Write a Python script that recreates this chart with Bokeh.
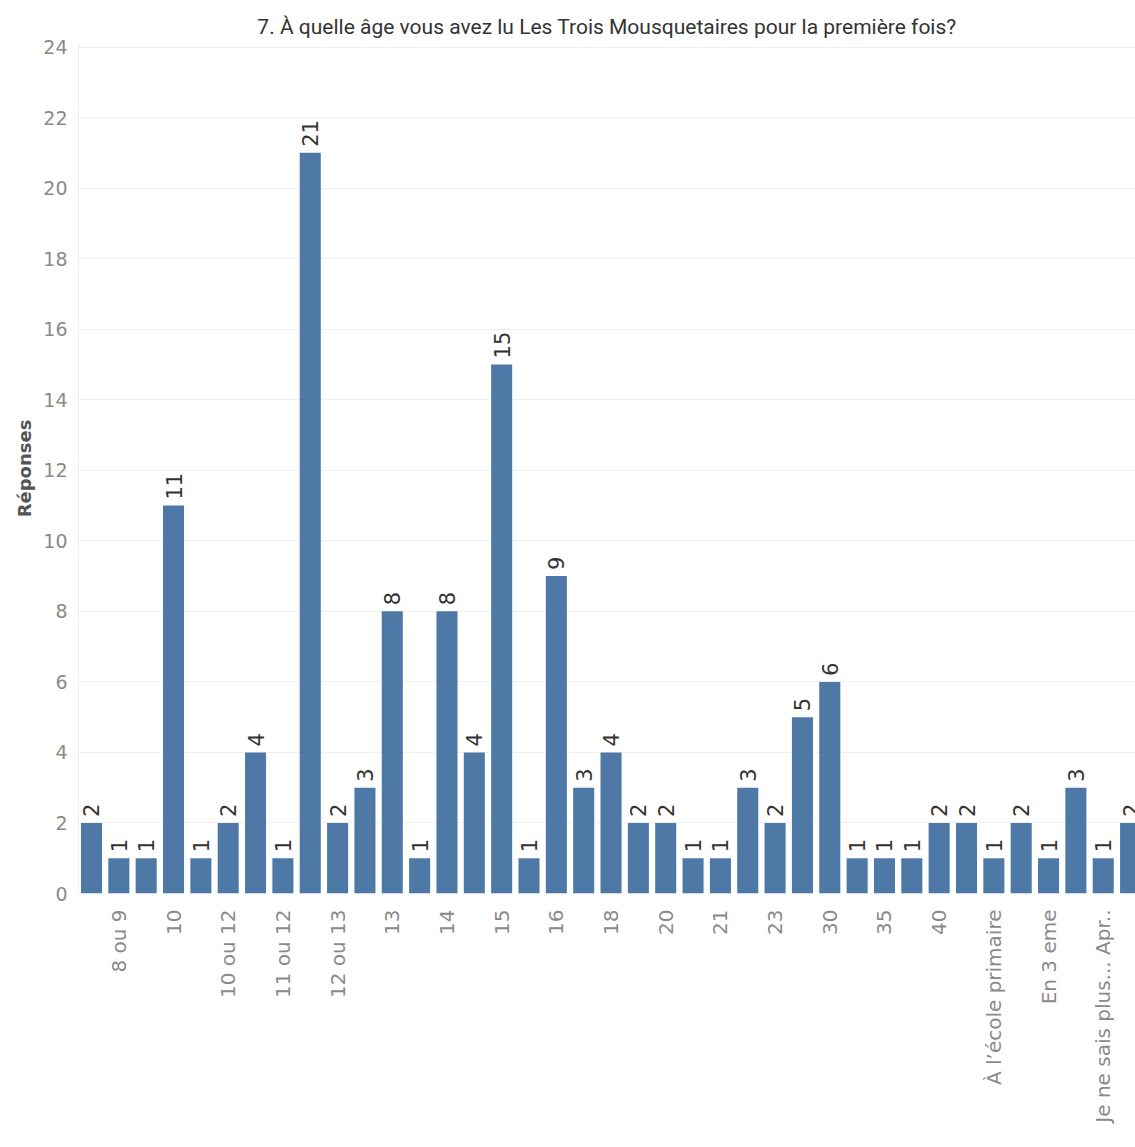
import math
from bokeh.plotting import figure
from bokeh.models import ColumnDataSource, FixedTicker, Range1d
from bokeh.core.properties import value
from bokeh.embed import file_html
from bokeh.resources import INLINE

# ---- data ----
x_labels = ["", "8 ou 9", "", "10", "", "10 ou 12", "", "11 ou 12", "", "12 ou 13",
            "", "13", "", "14", "", "15", "", "16", "", "18",
            "", "20", "", "21", "", "23", "", "30", "", "35",
            "", "40", "", "À l\u2019école primaire", "", "En 3 eme", "", "Je ne sais plus... Apr..", ""]
responses = [2, 1, 1, 11, 1, 2, 4, 1, 21, 2,
             3, 8, 1, 8, 4, 15, 1, 9, 3, 4,
             2, 2, 1, 1, 3, 2, 5, 6, 1, 1,
             1, 2, 2, 1, 2, 1, 3, 1, 2]
y_ticks = list(range(0, 25, 2))
title_text = "7. À quelle âge vous avez lu Les Trois Mousquetaires pour la première fois?"
y_title = "Réponses"

idx = list(range(len(responses)))
src = ColumnDataSource(dict(x=idx, top=responses, lbl=[str(v) for v in responses]))

p = figure(width=1135, height=1147, output_backend="svg", toolbar_location=None,
           x_range=Range1d(-0.475, 38.18), y_range=Range1d(0, 24.1),
           min_border_left=78, min_border_right=0, min_border_top=43, min_border_bottom=254)

p.title.text = title_text
p.title.align = "center"
p.title.text_font = "Roboto"
p.title.text_font_size = "21px"
p.title.text_font_style = "normal"
p.title.text_color = "#333333"
p.title.offset = 120

p.vbar(x="x", top="top", width=0.77, bottom=0, source=src, color="#4e79a7", line_color=None)
p.text(x="x", y="top", text="lbl", source=src, angle=math.pi / 2, text_align="left",
       text_baseline="middle", y_offset=-6, text_font_size=value("21px"), text_color="#333333",
       text_font=value("DejaVu Sans"))

p.xaxis.ticker = FixedTicker(ticks=idx)
p.xaxis.major_label_overrides = {i: l for i, l in zip(idx, x_labels)}
p.xaxis.major_label_orientation = math.pi / 2
p.xaxis.major_label_text_font = "DejaVu Sans"
p.xaxis.major_label_text_font_size = "20px"
p.xaxis.major_label_text_color = "#8a8a8a"
p.xaxis.axis_line_color = None
p.xaxis.major_tick_line_color = None
p.xaxis.minor_tick_line_color = None
p.xaxis.major_label_standoff = 10

p.yaxis.ticker = FixedTicker(ticks=y_ticks)
p.yaxis.axis_label = y_title
p.yaxis.axis_label_text_font = "DejaVu Sans"
p.yaxis.axis_label_text_font_style = "bold"
p.yaxis.axis_label_text_font_size = "18px"
p.yaxis.axis_label_text_color = "#555555"
p.yaxis.major_label_text_font = "DejaVu Sans"
p.yaxis.major_label_text_font_size = "19px"
p.yaxis.major_label_text_color = "#8a8a8a"
p.yaxis.axis_line_color = "#eeeeee"
p.yaxis.major_tick_line_color = None
p.yaxis.minor_tick_line_color = None

p.xgrid.grid_line_color = None
p.ygrid.grid_line_color = "#efefef"
p.outline_line_color = None
p.background_fill_color = "white"
p.border_fill_color = "white"

open("out.html", "w").write(file_html(p, INLINE))
